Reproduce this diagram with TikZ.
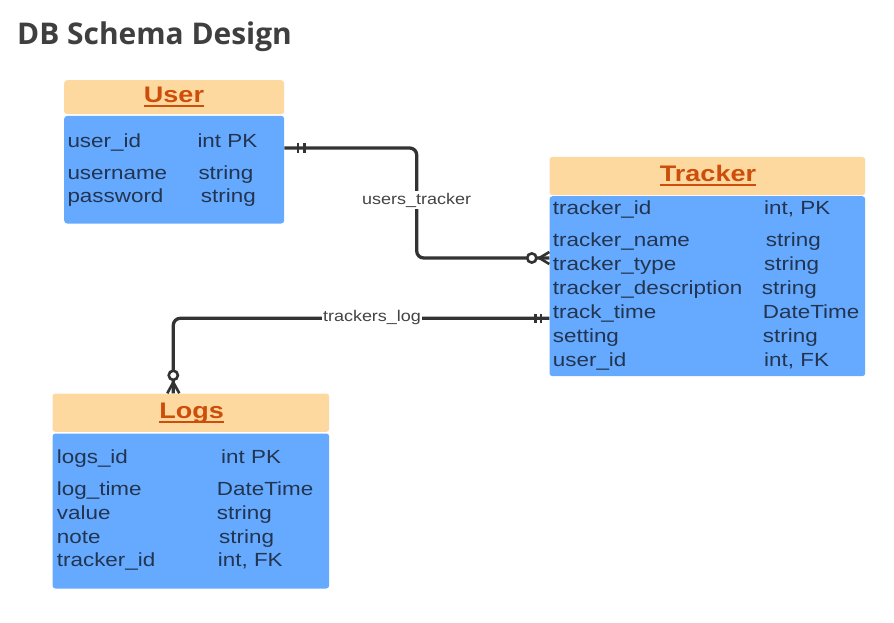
\documentclass[tikz,border=0pt]{standalone}
\usepackage{fontspec}
\setmainfont{Liberation Sans}
\newfontfamily\bodyfont[FakeStretch=1.18]{Liberation Sans}
\newfontfamily\lblfont[FakeStretch=1.16]{Liberation Sans}
\newfontfamily\hdrfont[FakeStretch=1.2]{Liberation Sans}
\newfontfamily\titlefont{Open Sans}
\usetikzlibrary{calc}
\definecolor{hdrfill}{HTML}{FDD9A0}
\definecolor{bodyfill}{HTML}{66AAFF}
\definecolor{bodytext}{HTML}{22344F}
\definecolor{hdrtext}{HTML}{CC4E0A}
\definecolor{titletext}{HTML}{3F3F3F}
\definecolor{linecol}{HTML}{333333}
\definecolor{lbltext}{HTML}{444444}
\tikzset{
  hdrbox/.style={fill=hdrfill, rounded corners=3pt, draw=none, anchor=north west, inner sep=0pt},
  bodybox/.style={fill=bodyfill, rounded corners=3pt, draw=none, anchor=north west, inner sep=0pt},
  field/.style={anchor=base west, inner sep=0pt, text=bodytext, font=\bodyfont\fontsize{19}{19}\selectfont},
  hdrlabel/.style={anchor=base, inner sep=0pt, text=hdrtext, font=\hdrfont\bfseries\fontsize{22.5}{22.5}\selectfont},
  uline/.style={draw=hdrtext, line width=2pt},
  conn/.style={draw=linecol, line width=3.3pt},
  endmark/.style={draw=linecol, line width=2.6pt},
  relname/.style={fill=white, inner sep=1.5pt, text=lbltext, font=\lblfont\fontsize{15.5}{15.5}\selectfont},
}
\begin{document}
\begin{tikzpicture}[x=1pt,y=-1pt]
\useasboundingbox[fill=white] (0,0) rectangle (894,623);

% title
\node[anchor=base west, inner sep=0pt, text=titletext, font=\titlefont\bfseries\fontsize{29.9}{29.9}\selectfont] (title) at (17,45) {DB Schema Design};

% ---------- User ----------
\node[hdrbox, minimum width=220pt, minimum height=34pt] (userh) at (64,80) {};
\node[bodybox, minimum width=220pt, minimum height=107.6pt] (userb) at (64,115.7) {};
\node[hdrlabel] (usert) at (174,102.7) {User};
\draw[uline] ([yshift=-3.5pt]usert.base west) -- ([yshift=-3.5pt]usert.base east);
\node[field] (u1) at (67.3,147.3) {user\_id};
\node[field] (u1t) at (197.3,147.3) {int PK};
\node[field] (u2) at (67.3,179) {username};
\node[field] (u2t) at (198.3,179) {string};
\node[field] (u3) at (67.3,202) {password};
\node[field] (u3t) at (200.7,202) {string};

% ---------- Tracker ----------
\node[hdrbox, minimum width=315.7pt, minimum height=38.3pt] (trackh) at (549.3,156.7) {};
\node[bodybox, minimum width=315.7pt, minimum height=180pt] (trackb) at (549.3,196) {};
\node[hdrlabel] (trackt) at (708,181.7) {Tracker};
\draw[uline] ([yshift=-3.5pt]trackt.base west) -- ([yshift=-3.5pt]trackt.base east);
\node[field] (t1) at (552.7,214.3) {tracker\_id};
\node[field] (t1t) at (764,214.3) {int, PK};
\node[field] (t2) at (552.7,246.7) {tracker\_name};
\node[field] (t2t) at (765.7,246.7) {string};
\node[field] (t3) at (552.7,270) {tracker\_type};
\node[field] (t3t) at (764,270) {string};
\node[field] (t4) at (552.7,294) {tracker\_description};
\node[field] (t4t) at (761.7,294) {string};
\node[field] (t5) at (552.7,318.3) {track\_time};
\node[field] (t5t) at (762.7,318.3) {DateTime};
\node[field] (t6) at (552.7,342.7) {setting};
\node[field] (t6t) at (762.7,342.7) {string};
\node[field] (t7) at (552.7,366) {user\_id};
\node[field] (t7t) at (764,366) {int, FK};

% ---------- Logs ----------
\node[hdrbox, minimum width=276.7pt, minimum height=38.4pt] (logsh) at (52.3,393.3) {};
\node[bodybox, minimum width=276.7pt, minimum height=155pt] (logsb) at (52.3,433.3) {};
\node[hdrlabel] (logst) at (191.7,418.3) {Logs};
\draw[uline] ([yshift=-3.5pt]logst.base west) -- ([yshift=-3.5pt]logst.base east);
\node[field] (l1) at (56.7,463.3) {logs\_id};
\node[field] (l1t) at (221,463.3) {int PK};
\node[field] (l2) at (56.7,495) {log\_time};
\node[field] (l2t) at (216.7,495) {DateTime};
\node[field] (l3) at (56.7,519.3) {value};
\node[field] (l3t) at (216.7,519.3) {string};
\node[field] (l4) at (56.7,543.3) {note};
\node[field] (l4t) at (219,543.3) {string};
\node[field] (l5) at (56.7,566.7) {tracker\_id};
\node[field] (l5t) at (217.7,566.7) {int, FK};

% ---------- users_tracker ----------
\coordinate (ua) at ($(userb.north east)+(0,32.3)$);
\coordinate (tb) at ($(trackb.north west)+(0,62)$);
\draw[conn, rounded corners=7pt] (ua) -- (416.7,148) -- (416.7,258) -- (tb);
\draw[endmark] ($(ua)+(13.5,-5)$) -- ($(ua)+(13.5,5)$);
\draw[endmark] ($(ua)+(20,-5)$) -- ($(ua)+(20,5)$);
\draw[endmark] ($(tb)+(-10,0)$) -- ($(tb)+(0,-6)$);
\draw[endmark] ($(tb)+(-10,0)$) -- ($(tb)+(0,6)$);
\draw[endmark, fill=white] ($(tb)+(-17.5,0)$) circle (4.6pt);
\node[relname] (rel1) at (416.7,200) {users\_tracker};

% ---------- trackers_log ----------
\coordinate (tc) at ($(trackb.north west)+(0,122.3)$);
\coordinate (la) at (logsh.north -| 173.3,0);
\draw[conn, rounded corners=7pt] (tc) -- (173.3,318.3) -- (la);
\draw[endmark] ($(tc)+(-14,-4.5)$) -- ($(tc)+(-14,4.5)$);
\draw[endmark] ($(tc)+(-8.5,-4.5)$) -- ($(tc)+(-8.5,4.5)$);
\draw[endmark] ($(la)+(0,-11)$) -- ($(la)+(-6,0)$);
\draw[endmark] ($(la)+(0,-11)$) -- ($(la)+(6,0)$);
\draw[endmark, fill=white] ($(la)+(0,-18)$) circle (4.6pt);
\node[relname] (rel2) at (372,317) {trackers\_log};
\end{tikzpicture}
\end{document}
